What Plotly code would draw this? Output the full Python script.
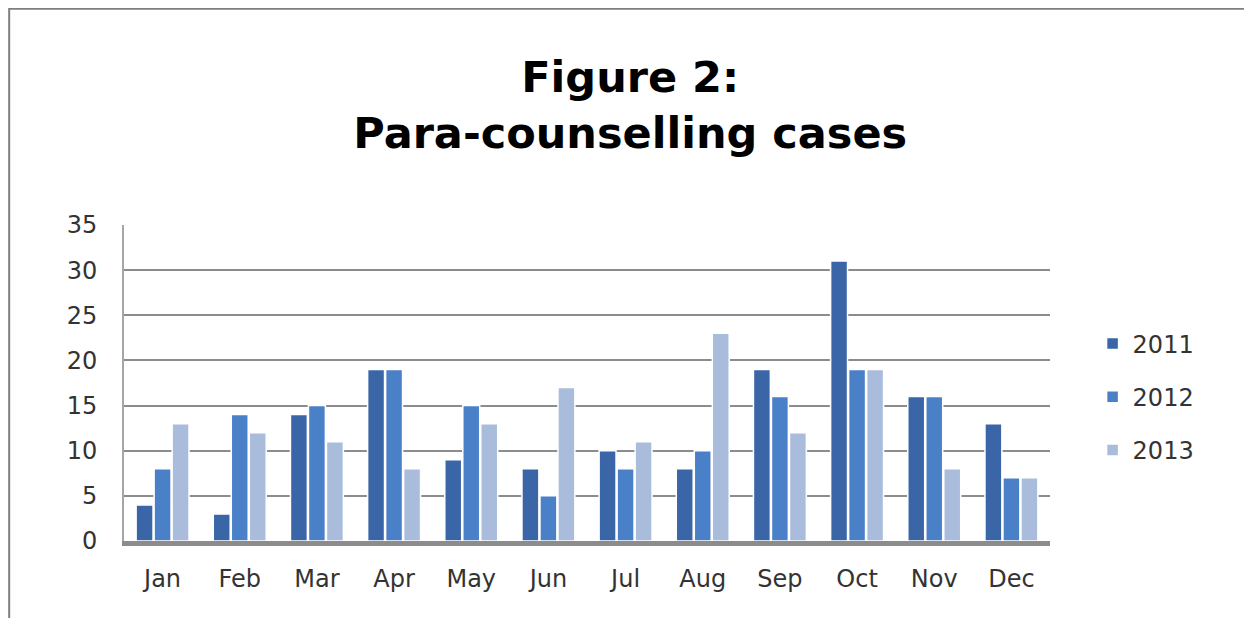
import plotly.graph_objects as go

months = ["Jan", "Feb", "Mar", "Apr", "May", "Jun", "Jul", "Aug", "Sep", "Oct", "Nov", "Dec"]
cases_2011 = [4, 3, 14, 19, 9, 8, 10, 8, 19, 31, 16, 13]
cases_2012 = [8, 14, 15, 19, 15, 5, 8, 10, 16, 19, 16, 7]
cases_2013 = [13, 12, 11, 8, 13, 17, 11, 23, 12, 19, 8, 7]
y_ticks = [0, 5, 10, 15, 20, 25, 30, 35]

series = [("2011", cases_2011, "#3A66A7"),
          ("2012", cases_2012, "#4A80C8"),
          ("2013", cases_2013, "#A9BCDB")]

fig = go.Figure()
for name, vals, col in series:
    fig.add_trace(go.Bar(
        x=months, y=vals, name=name, legendgroup=name,
        marker=dict(color=col, line=dict(color="white", width=1.5)),
    ))

fig.update_layout(
    width=1252, height=618,
    paper_bgcolor="white", plot_bgcolor="white",
    barmode="group", bargap=0.3, bargroupgap=0.06,
    margin=dict(l=116, r=210, t=217, b=85),
    font=dict(family="DejaVu Sans, sans-serif", color="#333333"),
    title=dict(
        text="<b>Figure 2:</b><br><b>Para-counselling cases</b>",
        x=0.497, xanchor="center", y=0.864, yanchor="middle",
        font=dict(size=43, color="black", family="DejaVu Sans, sans-serif"),
    ),
    legend=dict(
        x=1.046, xanchor="left", y=0.456, yanchor="middle",
        font=dict(size=24, color="#333333"),
        itemwidth=30, tracegroupgap=19,
    ),
    showlegend=True,
)
fig.update_xaxes(
    tickfont=dict(size=24, color="#333333"),
    showgrid=False, showline=True, linecolor="#8C8C8C", linewidth=5,
    ticks="", ticklabelstandoff=12,
)
fig.update_yaxes(
    range=[0, 35], tickvals=y_ticks,
    tickfont=dict(size=24, color="#333333"),
    showgrid=True, gridcolor="#8C8C8C", gridwidth=2,
    showline=True, linecolor="#A6A6A6", linewidth=2,
    zeroline=False, ticks="", ticklabelstandoff=20,
)

# outer frame of the chart (top and left edges visible)
fig.add_shape(type="rect", xref="paper", yref="paper",
              x0=-0.124, x1=1.3, y0=-0.4, y1=1.684,
              line=dict(color="#7F7F7F", width=2), layer="below")

fig.write_html("out.html")
